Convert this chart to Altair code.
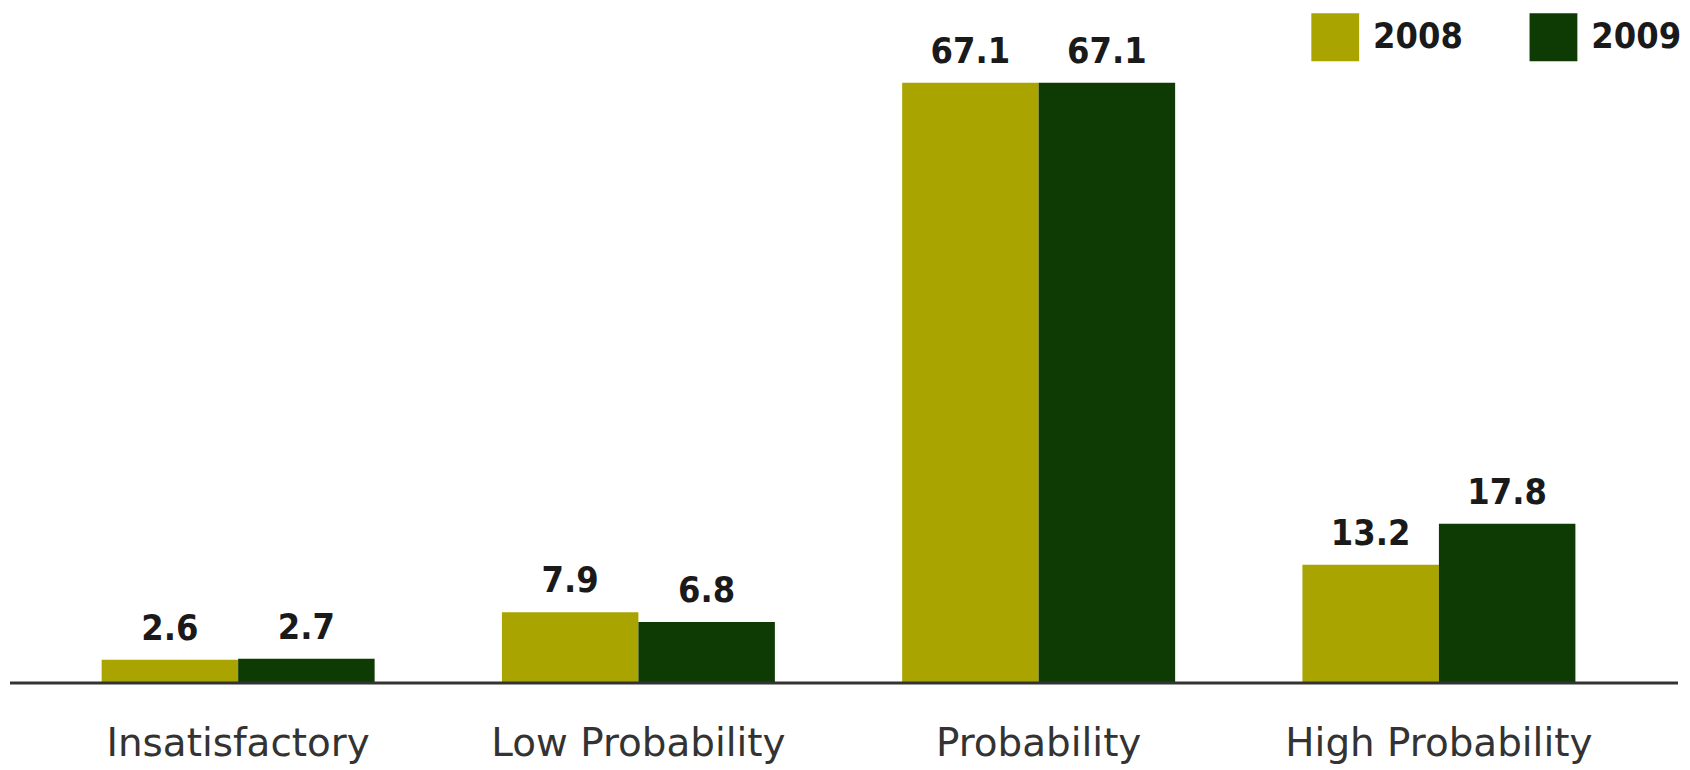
import altair as alt
import pandas as pd

categories = ["Insatisfactory", "Low Probability", "Probability", "High Probability"]
years = ["2008", "2009"]
v2008 = [2.6, 7.9, 67.1, 13.2]
v2009 = [2.7, 6.8, 67.1, 17.8]

rows = []
for c, a, b in zip(categories, v2008, v2009):
    rows.append({"category": c, "year": "2008", "value": a})
    rows.append({"category": c, "year": "2009", "value": b})
df = pd.DataFrame(rows)

W, H = 1663, 676

x = alt.X("category:N", sort=categories,
          scale=alt.Scale(paddingInner=0.318, paddingOuter=0.229),
          axis=alt.Axis(title=None, domain=False, ticks=False, labelAngle=0,
                        labelFontSize=39, labelFont="DejaVu Sans", labelLimit=0,
                        labelColor="#333333", labelPadding=42))
xo = alt.XOffset("year:N", sort=years, scale=alt.Scale(paddingInner=0, paddingOuter=0))
y = alt.Y("value:Q", scale=alt.Scale(domain=[0, 75.3], nice=False), axis=None)
color = alt.Color("year:N", sort=years,
                  scale=alt.Scale(domain=years, range=["#aaa400", "#0e3b04"]),
                  legend=alt.Legend(title=None, orient="none", legendX=1306, legendY=4,
                                    direction="horizontal", symbolType="square",
                                    symbolSize=2304, symbolStrokeWidth=0,
                                    labelFontSize=36, labelFont="DejaVu Sans Condensed",
                                    labelFontWeight="bold", labelColor="#1a1a1a",
                                    labelOffset=14, columnPadding=66))

base = alt.Chart(df).encode(x=x, xOffset=xo)

bars = base.mark_bar().encode(y=y, color=color)
labels = base.mark_text(dy=-20, baseline="alphabetic", fontSize=36,
                        font="DejaVu Sans Condensed", fontWeight="bold",
                        color="#1a1a1a").encode(
    y=y, text=alt.Text("value:Q", format=".1f"))

rule = alt.Chart(alt.Data(values=[{"a": 1}])).mark_rule(color="#333333", strokeWidth=3).encode(
    x=alt.value(0), x2=alt.value(1674), y=alt.value(H))

chart = alt.layer(bars, labels, rule).properties(
    width=W, height=H, padding=0, background="white"
).configure_view(strokeWidth=0, stroke="transparent")

chart.save("out.html", embed_options={"renderer": "svg", "actions": False})
